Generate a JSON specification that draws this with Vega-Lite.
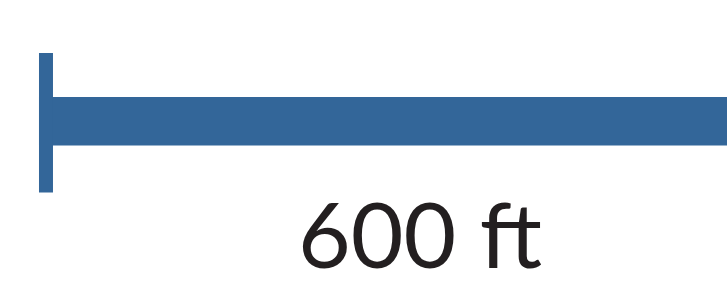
{
  "$schema": "https://vega.github.io/schema/vega-lite/v6.json",
  "width": 727,
  "height": 288,
  "autosize": {"type": "fit", "contains": "padding"},
  "padding": 0,
  "background": "white",
  "view": {"stroke": null},
  "config": {"view": {"stroke": null}},
  "datasets": {
    "bar": [{"start": 0, "end": 600, "top": 97, "bottom": 145.5}],
    "tick": [{"start": 0, "end": 11.02, "top": 53, "bottom": 192.5}],
    "label": [{"pos": 300, "base": 268, "text": "600 ft"}]
  },
  "layer": [
    {
      "data": {"name": "bar"},
      "mark": {"type": "rect", "color": "#336699", "clip": true},
      "encoding": {
        "x": {"field": "start", "type": "quantitative", "scale": {"domain": [-30.7, 541.7], "nice": false, "zero": false}, "axis": null},
        "x2": {"field": "end"},
        "y": {"field": "top", "type": "quantitative", "scale": {"domain": [288, 0], "nice": false, "zero": false}, "axis": null},
        "y2": {"field": "bottom"}
      }
    },
    {
      "data": {"name": "tick"},
      "mark": {"type": "rect", "color": "#336699"},
      "encoding": {
        "x": {"field": "start", "type": "quantitative"},
        "x2": {"field": "end"},
        "y": {"field": "top", "type": "quantitative"},
        "y2": {"field": "bottom"}
      }
    },
    {
      "data": {"name": "label"},
      "mark": {"type": "text", "font": "Lato", "fontWeight": 400, "fontSize": 91, "color": "#231f20", "align": "center", "baseline": "alphabetic"},
      "encoding": {
        "x": {"field": "pos", "type": "quantitative"},
        "y": {"field": "base", "type": "quantitative"},
        "text": {"field": "text"}
      }
    }
  ]
}
